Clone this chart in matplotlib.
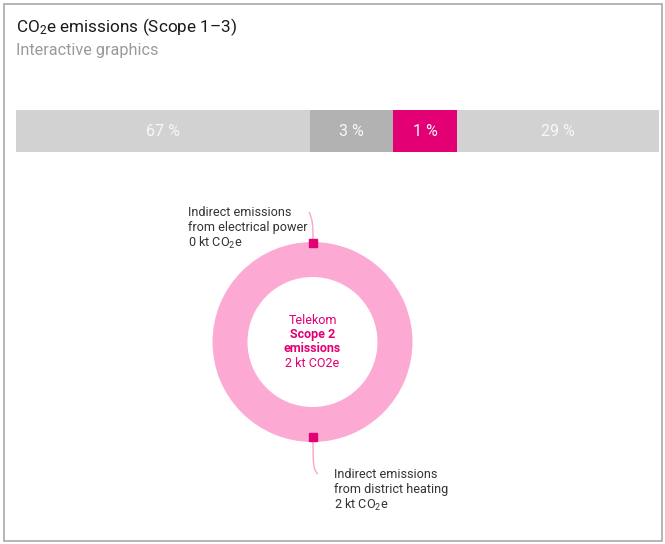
import matplotlib
matplotlib.use("Agg")
import matplotlib.pyplot as plt
from matplotlib.patches import Rectangle
from matplotlib.path import Path
from matplotlib.patches import PathPatch

plt.rcParams['font.family'] = ['Roboto', 'DejaVu Sans']
plt.rcParams['mathtext.fontset'] = 'custom'
plt.rcParams['mathtext.rm'] = 'Roboto'
plt.rcParams['mathtext.it'] = 'Roboto:italic'
plt.rcParams['mathtext.bf'] = 'Roboto:bold'

# ---- data ----
title = "CO$_2$e emissions (Scope 1\u20133)"
subtitle = "Interactive graphics"
bar_shares = [67, 3, 1, 29]                 # percent labels
bar_display = [45.7, 12.9, 10.0, 31.4]      # displayed segment widths
bar_colors = ["#d2d2d2", "#b2b2b2", "#e20074", "#d2d2d2"]
donut_labels = [["Indirect emissions", "from electrical power", "0 kt CO", "2", "e"],
                ["Indirect emissions", "from district heating", "2 kt CO", "2", "e"]]
donut_values = [0, 2]   # kt CO2e
center_lines = ["Telekom", "Scope 2", "emissions", "2 kt CO2e"]

W, H = 665, 544
fig = plt.figure(figsize=(W / 100, H / 100), dpi=100)
ax = fig.add_axes([0, 0, 1, 1])
ax.set_xlim(0, W)
ax.set_ylim(H, 0)
ax.axis('off')

# frame
ax.add_patch(Rectangle((3.5, 3.5), 658, 537, fill=False, edgecolor="#a8a8a8", lw=1.2))

ax.text(16, 27, title, fontsize=12.3, color="#1a1a1a", va='center', ha='left')
ax.text(16, 50, subtitle, fontsize=11.7, color="#9a9a9a", va='center', ha='left')

# stacked bar
bx0, bx1, by0, by1 = 16, 659, 110, 152
bax = fig.add_axes([bx0 / W, 1 - by1 / H, (bx1 - bx0) / W, (by1 - by0) / H])
bax.set_xlim(0, sum(bar_display))
bax.set_ylim(-0.5, 0.5)
bax.axis('off')
left = 0
for s, w, c in zip(bar_shares, bar_display, bar_colors):
    bax.barh(0, w, left=left, height=1, color=c, edgecolor='none')
    bax.text(left + w / 2, 0, f"{s} %", ha='center', va='center', fontsize=11.5,
             color="#f8f8f8")
    left += w

# donut
cx, cy, R = 312.5, 342, 100
dax = fig.add_axes([(cx - R) / W, 1 - (cy + R) / H, 2 * R / W, 2 * R / H])
dax.pie(donut_values, colors=["#fcaad4", "#fcaad4"], startangle=90, counterclock=False,
        radius=1, wedgeprops=dict(width=0.35, edgecolor='none'))
dax.set_xlim(-1, 1)
dax.set_ylim(-1, 1)
dax.set_aspect('equal')
dax.axis('off')

# overlay for annotations
ox = fig.add_axes([0, 0, 1, 1])
ox.set_xlim(0, W)
ox.set_ylim(H, 0)
ox.axis('off')
ox.patch.set_alpha(0)

mag = "#e20074"
path1 = Path([(309, 212), (313, 220), (313, 226), (313, 243)],
             [Path.MOVETO, Path.CURVE4, Path.CURVE4, Path.CURVE4])
ox.add_patch(PathPatch(path1, fill=False, edgecolor="#f7a6cd", lw=1))
path2 = Path([(313, 437), (313, 462), (313, 470), (318, 474)],
             [Path.MOVETO, Path.CURVE4, Path.CURVE4, Path.CURVE4])
ox.add_patch(PathPatch(path2, fill=False, edgecolor="#f7a6cd", lw=1))
ox.plot([313, 313], [243, 437], ls='none', marker='s', ms=5.5, color=mag, zorder=5)

for (x0, y0), lines in zip([(188, 212), (334, 474)], donut_labels):
    ox.text(x0, y0, lines[0], fontsize=9.1, color="#333333", va='center', ha='left')
    ox.text(x0, y0 + 15.7, lines[1], fontsize=9.1, color="#333333", va='center', ha='left')
    ox.text(x0, y0 + 31.4, lines[2] + "$_{" + lines[3] + "}$" + lines[4],
            fontsize=9.1, color="#333333", va='center', ha='left')

weights = ['normal', 'bold', 'bold', 'normal']
for i, (t, wgt) in enumerate(zip(center_lines, weights)):
    ox.text(cx, 320 + i * 14.5, t, fontsize=9, color=mag, ha='center', va='center',
            fontweight=wgt)

fig.savefig("out.png", dpi=100)
